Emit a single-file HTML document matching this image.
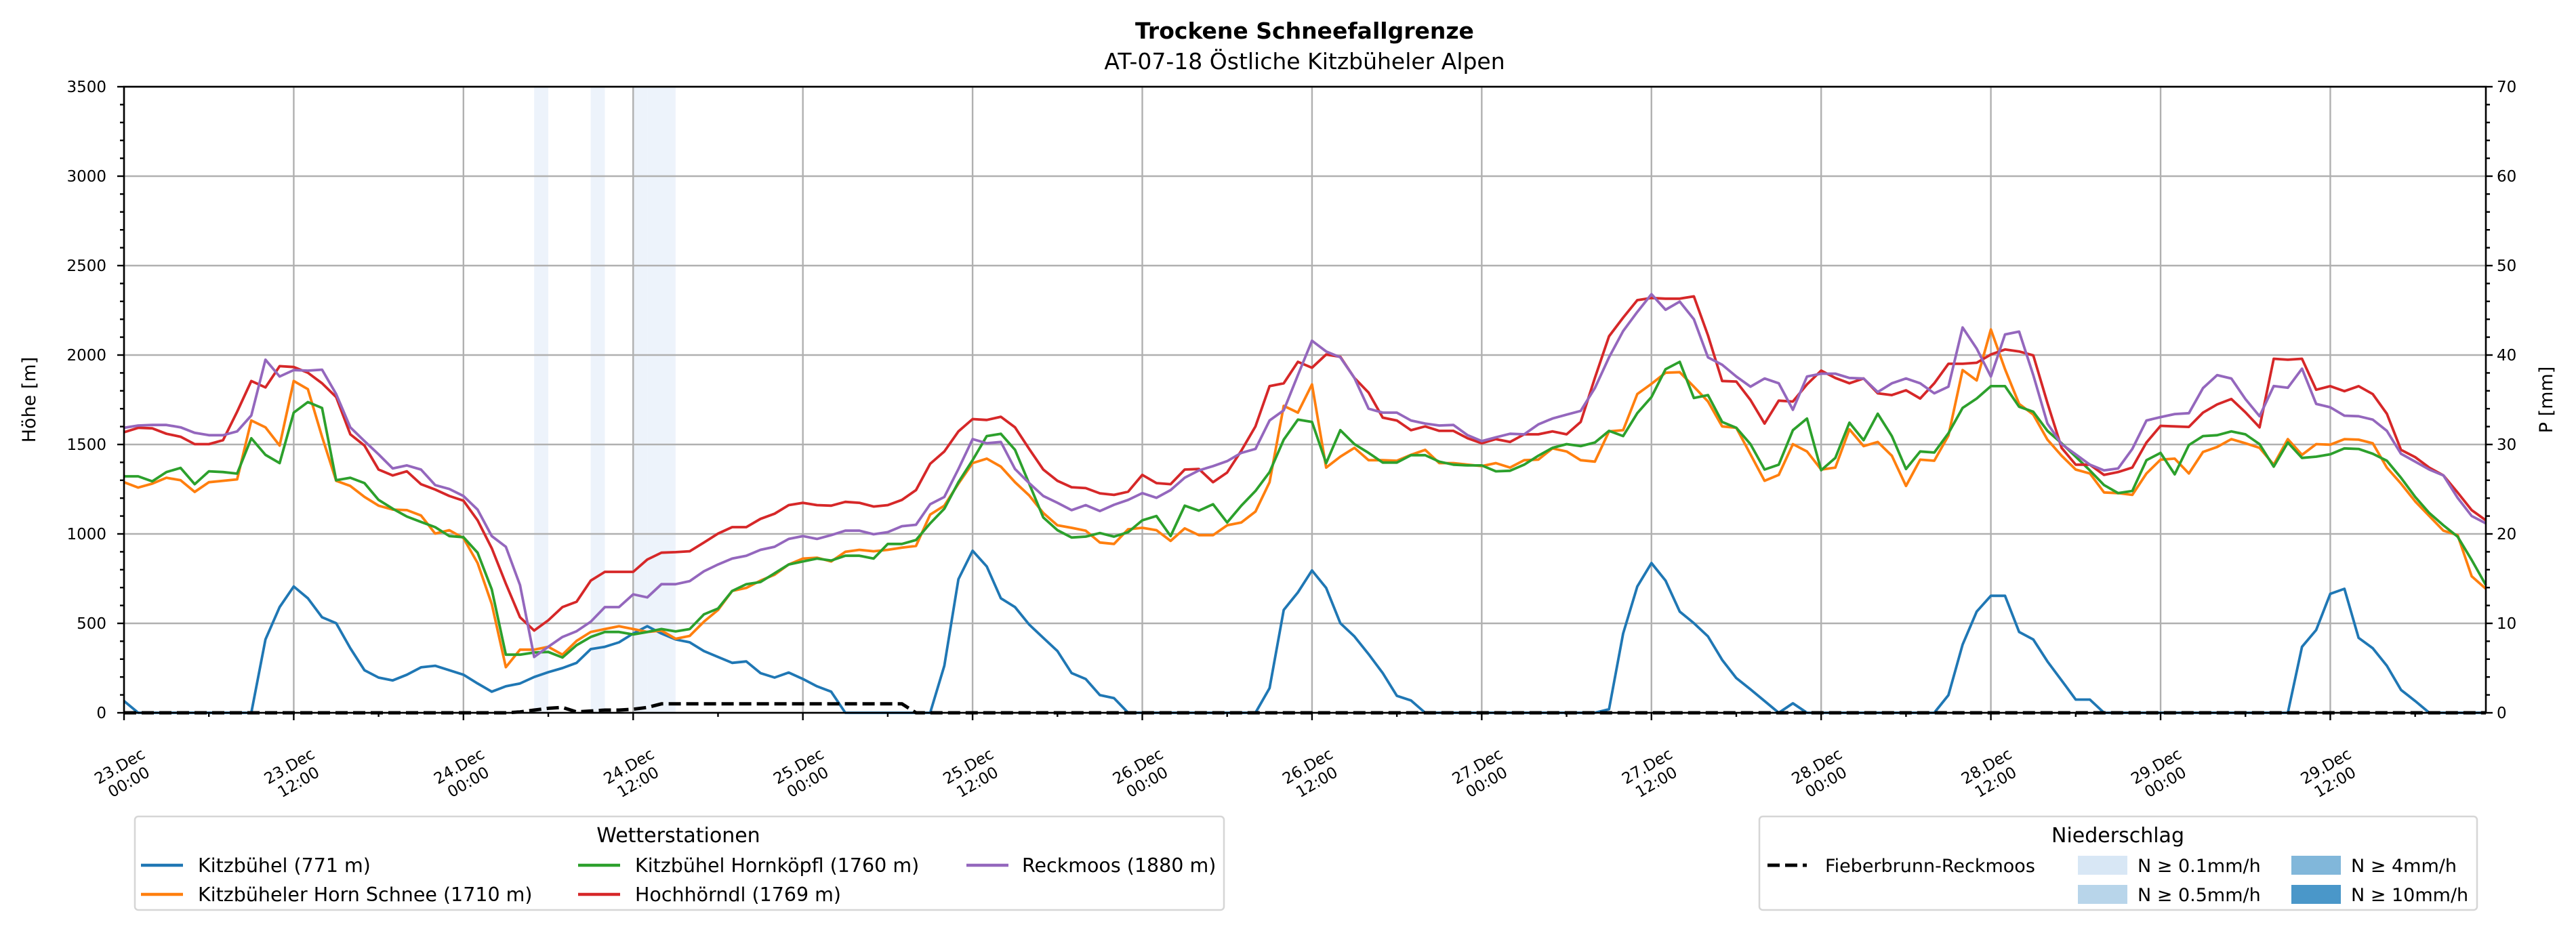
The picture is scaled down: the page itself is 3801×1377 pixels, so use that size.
<!DOCTYPE html>
<html><head><meta charset="utf-8"><title>Trockene Schneefallgrenze</title>
<style>
html,body{margin:0;padding:0;background:#fff;}
svg{display:block;font-family:"DejaVu Sans","Liberation Sans",sans-serif;}
</style></head>
<body>
<svg id="chart" width="3801" height="1377" viewBox="0 0 3801 1377" xmlns="http://www.w3.org/2000/svg">
<rect x="0" y="0" width="3801" height="1377" fill="#fff"/>
<text x="1925" y="57" text-anchor="middle" font-size="33" font-weight="bold">Trockene Schneefallgrenze</text>
<text x="1925" y="102" text-anchor="middle" font-size="33">AT-07-18 Östliche Kitzbüheler Alpen</text>
<g id="bands"></g>
<g id="grid"></g>
<g id="series"></g>
<g id="axes"></g>
<text transform="translate(52,590) rotate(-90)" text-anchor="middle" font-size="27">Höhe [m]</text>
<text transform="translate(3766,590) rotate(-90)" text-anchor="middle" font-size="27">P [mm]</text>
<g>
<rect x="199" y="1205" width="1607" height="138" rx="5" fill="#fff" stroke="#d6d6d6" stroke-width="2.5"/>
<text x="1001" y="1243" text-anchor="middle" font-size="30">Wetterstationen</text>
<g><line x1="208" y1="1277" x2="270" y2="1277" stroke="#1f77b4" stroke-width="4.5"/><text x="292" y="1287" font-size="28.5">Kitzbühel (771 m)</text></g>
<g><line x1="208" y1="1320" x2="270" y2="1320" stroke="#ff7f0e" stroke-width="4.5"/><text x="292" y="1330" font-size="28.5">Kitzbüheler Horn Schnee (1710 m)</text></g>
<g><line x1="853" y1="1277" x2="915" y2="1277" stroke="#2ca02c" stroke-width="4.5"/><text x="937" y="1287" font-size="28.5">Kitzbühel Hornköpfl (1760 m)</text></g>
<g><line x1="853" y1="1320" x2="915" y2="1320" stroke="#d62728" stroke-width="4.5"/><text x="937" y="1330" font-size="28.5">Hochhörndl (1769 m)</text></g>
<g><line x1="1426" y1="1277" x2="1488" y2="1277" stroke="#9467bd" stroke-width="4.5"/><text x="1508" y="1287" font-size="28.5">Reckmoos (1880 m)</text></g>
</g>
<g>
<rect x="2596" y="1205" width="1059" height="138" rx="5" fill="#fff" stroke="#d6d6d6" stroke-width="2.5"/>
<text x="3125" y="1243" text-anchor="middle" font-size="30">Niederschlag</text>
<g><line x1="2608" y1="1277" x2="2666" y2="1277" stroke="#000" stroke-width="5" stroke-dasharray="18,8"/><text x="2693" y="1287" font-size="27">Fieberbrunn-Reckmoos</text></g>
<g><rect x="3066" y="1263" width="73" height="28" fill="#d8e7f5"/><text x="3154" y="1287" font-size="27">N ≥ 0.1mm/h</text></g>
<g><rect x="3066" y="1306" width="73" height="28" fill="#b8d5ea"/><text x="3154" y="1330" font-size="27">N ≥ 0.5mm/h</text></g>
<g><rect x="3381" y="1263" width="73" height="28" fill="#81b7da"/><text x="3469" y="1287" font-size="27">N ≥ 4mm/h</text></g>
<g><rect x="3381" y="1306" width="73" height="28" fill="#4a97c9"/><text x="3469" y="1330" font-size="27">N ≥ 10mm/h</text></g>
</g>
</svg>
<script>
// ---- data (hourly from 23.Dec 00:00) ----
const tickLabelsDay = ["23.Dec","23.Dec","24.Dec","24.Dec","25.Dec","25.Dec","26.Dec","26.Dec","27.Dec","27.Dec","28.Dec","28.Dec","29.Dec","29.Dec"];
const tickLabelsTime = ["00:00","12:00","00:00","12:00","00:00","12:00","00:00","12:00","00:00","12:00","00:00","12:00","00:00","12:00"];
const yTicks = [0,500,1000,1500,2000,2500,3000,3500];
const y2Ticks = [0,10,20,30,40,50,60,70];
const kitzbuehel = [66,0,0,0,0,0,0,0,0,0,
410,591,706,640,534,501,361,238,197,181,
213,254,263,238,213,164,118,148,164,200,
227,250,279,356,369,394,443,484,443,410,
394,345,312,279,287,222,197,225,189,148,
118,0,0,0,0,0,0,0,263,747,
906,818,640,591,493,419,345,222,189,99,
82,0,0,0,0,0,0,0,0,0,
0,138,575,673,796,698,501,427,328,222,
95,69,0,0,0,0,0,0,0,0,
0,0,0,0,0,20,443,706,837,739,
566,501,427,296,194,131,66,0,53,0,
0,0,0,0,0,0,0,0,0,99,
381,566,654,654,452,410,287,181,74,74,
0,0,0,0,0,0,0,0,0,0,
0,0,0,0,369,463,665,693,419,361,
263,128,66,0,0,0,0,0];
const hornSchnee = [1289,1259,1281,1314,1300,1235,1289,1297,1305,1634,
1596,1494,1855,1809,1543,1297,1268,1207,1158,1136,
1133,1103,1002,1021,977,837,608,255,353,353,
369,325,402,452,468,484,468,452,460,414,
430,509,575,681,698,739,772,829,862,867,
846,900,911,903,911,923,933,1108,1158,1281,
1396,1421,1376,1289,1215,1117,1048,1034,1018,952,
944,1026,1034,1021,961,1031,993,993,1048,1064,
1125,1289,1716,1678,1836,1371,1432,1481,1412,1412,
1409,1442,1470,1396,1396,1387,1379,1396,1371,1412,
1415,1478,1461,1412,1404,1573,1580,1782,1839,1901,
1904,1823,1740,1601,1593,1445,1297,1330,1502,1461,
1360,1371,1585,1491,1514,1437,1268,1415,1409,1550,
1916,1858,2143,1921,1727,1667,1527,1437,1360,1338,
1232,1228,1218,1338,1415,1421,1338,1458,1486,1530,
1507,1481,1387,1530,1442,1502,1499,1530,1527,1507,
1371,1281,1182,1100,1018,993,763,693];
const hornkoepfl = [1322,1322,1294,1346,1369,1278,1350,1346,1337,1535,
1442,1396,1678,1737,1704,1300,1314,1284,1190,1141,
1097,1067,1038,988,982,895,690,325,325,337,
340,309,378,424,452,452,438,452,468,455,
468,550,583,681,719,731,780,829,846,862,
851,878,878,862,944,944,966,1059,1141,1289,
1412,1547,1560,1470,1281,1092,1021,980,985,1005,
985,1010,1076,1100,988,1158,1130,1166,1064,1158,
1240,1346,1527,1639,1626,1396,1580,1502,1453,1399,
1399,1440,1440,1404,1387,1383,1383,1350,1353,1387,
1437,1481,1502,1491,1511,1576,1547,1675,1765,1921,
1962,1760,1776,1626,1593,1502,1360,1387,1580,1645,
1356,1425,1622,1524,1672,1547,1363,1461,1455,1563,
1704,1757,1826,1826,1711,1683,1576,1507,1432,1355,
1273,1228,1240,1412,1453,1333,1497,1547,1552,1573,
1557,1502,1376,1511,1425,1432,1445,1478,1475,1448,
1409,1314,1207,1117,1048,985,854,714];
const hochhoerndl = [1568,1593,1590,1560,1543,1502,1502,1524,1683,1855,
1819,1938,1933,1901,1842,1765,1557,1494,1360,1327,
1350,1278,1248,1212,1186,1076,920,722,534,460,
517,591,621,739,788,788,788,857,895,898,
903,952,1002,1038,1038,1084,1113,1161,1174,1161,
1158,1179,1174,1153,1161,1190,1245,1392,1461,1573,
1642,1637,1655,1596,1475,1360,1297,1261,1256,1227,
1218,1236,1330,1284,1278,1360,1363,1289,1343,1465,
1601,1826,1842,1962,1929,2003,1990,1872,1790,1650,
1634,1580,1601,1576,1576,1535,1507,1530,1514,1557,
1557,1573,1557,1626,1872,2105,2209,2307,2319,2315,
2315,2328,2110,1855,1852,1749,1617,1745,1740,1836,
1913,1872,1842,1869,1786,1776,1803,1757,1842,1951,
1951,1957,2003,2031,2020,1998,1732,1481,1387,1387,
1330,1346,1371,1511,1604,1601,1598,1678,1724,1754,
1680,1596,1979,1974,1979,1806,1826,1798,1826,1782,
1672,1470,1429,1371,1327,1232,1133,1076];
const reckmoos = [1593,1606,1609,1609,1596,1565,1552,1552,1573,1662,
1974,1880,1916,1913,1918,1782,1596,1519,1445,1366,
1383,1360,1273,1251,1212,1136,988,928,714,312,
369,424,456,509,591,591,662,645,719,719,
736,791,829,862,878,911,928,972,988,972,
993,1018,1018,998,1010,1043,1051,1166,1207,1363,
1530,1507,1514,1363,1284,1212,1174,1133,1161,1128,
1163,1190,1228,1202,1245,1314,1355,1379,1407,1453,
1475,1634,1691,1888,2080,2020,1987,1872,1700,1678,
1678,1634,1617,1606,1609,1552,1519,1540,1560,1557,
1612,1645,1667,1688,1815,1987,2134,2241,2340,2253,
2299,2200,1987,1946,1880,1823,1869,1842,1694,1880,
1896,1896,1872,1869,1793,1842,1869,1842,1786,1823,
2154,2036,1880,2115,2131,1888,1617,1502,1445,1387,
1355,1366,1475,1634,1653,1670,1675,1815,1888,1869,
1754,1658,1827,1817,1924,1727,1708,1661,1658,1639,
1576,1448,1404,1360,1327,1202,1100,1059];
const precipSumHours = [0,27,28,29,30,31,32,33,34,35,36,37,38,55,56,167];
const precipSumValues = [0,0,0.1,0.3,0.5,0.6,0.1,0.2,0.3,0.3,0.4,0.6,1.0,1.0,0,0];
const rateHours = [29,33,36,37,38];
const rateValues = [0.2,0.2,0.3,0.2,0.2];

// ---- geometry ----
const L=183, R=3668, T=128, B=1052, HMAX=167;
const xs = h => L + h*(R-L)/HMAX;
const yH = v => B - v/3500*(B-T);
const yP = mm => B - mm/70*(B-T);
const NS="http://www.w3.org/2000/svg";
function mk(tag, attrs, parent){const e=document.createElementNS(NS,tag);for(const k in attrs)e.setAttribute(k,attrs[k]);parent.appendChild(e);return e;}
const gBands=document.getElementById('bands'), gGrid=document.getElementById('grid'), gSer=document.getElementById('series'), gAx=document.getElementById('axes');

rateHours.forEach((h,i)=>{
  const v=rateValues[i];
  const col = v>=10?'#4a97c9':v>=4?'#81b7da':v>=0.5?'#b8d5ea':'#edf3fb';
  const r=mk('rect',{x:xs(h),y:T,width:xs(h+1)-xs(h),height:B-T,fill:col},gBands);
  
  
});

yTicks.forEach(v=>{
  const l=mk('line',{x1:L,x2:R,y1:yH(v),y2:yH(v),stroke:'#b0b0b0','stroke-width':2.4},gGrid);
  
  
});
tickLabelsDay.forEach((d,i)=>{
  const x=xs(i*12);
  const l=mk('line',{x1:x,x2:x,y1:T,y2:B,stroke:'#b0b0b0','stroke-width':2.4},gGrid);
  
  
});

const defs=[[kitzbuehel,'#1f77b4','line-kitzbuehel'],[hornSchnee,'#ff7f0e','line-horn-schnee'],[hornkoepfl,'#2ca02c','line-hornkoepfl'],[hochhoerndl,'#d62728','line-hochhoerndl'],[reckmoos,'#9467bd','line-reckmoos']];
defs.forEach(([arr,col,name])=>{
  const pts=arr.map((v,h)=>xs(h).toFixed(1)+','+yH(v).toFixed(1)).join(' ');
  const p=mk('polyline',{points:pts,fill:'none',stroke:col,'stroke-width':3.8,'stroke-linejoin':'round'},gSer);
  
  
});
const pp=precipSumHours.map((h,i)=>xs(h).toFixed(1)+','+yP(precipSumValues[i]).toFixed(1)).join(' ');
const pl=mk('polyline',{points:pp,fill:'none',stroke:'#000','stroke-width':5,'stroke-dasharray':'18,8'},gSer);



const fr=mk('rect',{x:L,y:T,width:R-L,height:B-T,fill:'none',stroke:'#000','stroke-width':2.6},gAx);


for(let v=0;v<=3500;v+=100){
  const major=v%500===0;
  const t=mk('line',{x1:L-(major?10:6),x2:L,y1:yH(v),y2:yH(v),stroke:'#000','stroke-width':2.4},gAx);
  
  
}
yTicks.forEach(v=>{
  const t=mk('text',{x:L-26,y:yH(v)+8,'text-anchor':'end','font-size':23},gAx);
  t.textContent=v;
  
  
});
for(let m=0;m<=70;m+=2){
  const major=m%10===0;
  const t=mk('line',{x1:R,x2:R+(major?10:6),y1:yP(m),y2:yP(m),stroke:'#000','stroke-width':2.4},gAx);
  
  
}
y2Ticks.forEach(m=>{
  const t=mk('text',{x:R+16,y:yP(m)+8,'font-size':23},gAx);
  t.textContent=m;
  
  
});
for(let h=0;h<=HMAX;h+=6){
  const major=h%12===0;
  const t=mk('line',{x1:xs(h),x2:xs(h),y1:B,y2:B+(major?11:6),stroke:'#000','stroke-width':2.4},gAx);
  
  
}
tickLabelsDay.forEach((d,i)=>{
  const g=mk('g',{transform:'translate('+xs(i*12).toFixed(1)+',1142) rotate(-30)'},gAx);
  
  
  const a=mk('text',{x:0,y:-5,'text-anchor':'middle','font-size':23},g); a.textContent=d;
  const b=mk('text',{x:0,y:22,'text-anchor':'middle','font-size':23},g); b.textContent=tickLabelsTime[i];
});
</script>
</body></html>
